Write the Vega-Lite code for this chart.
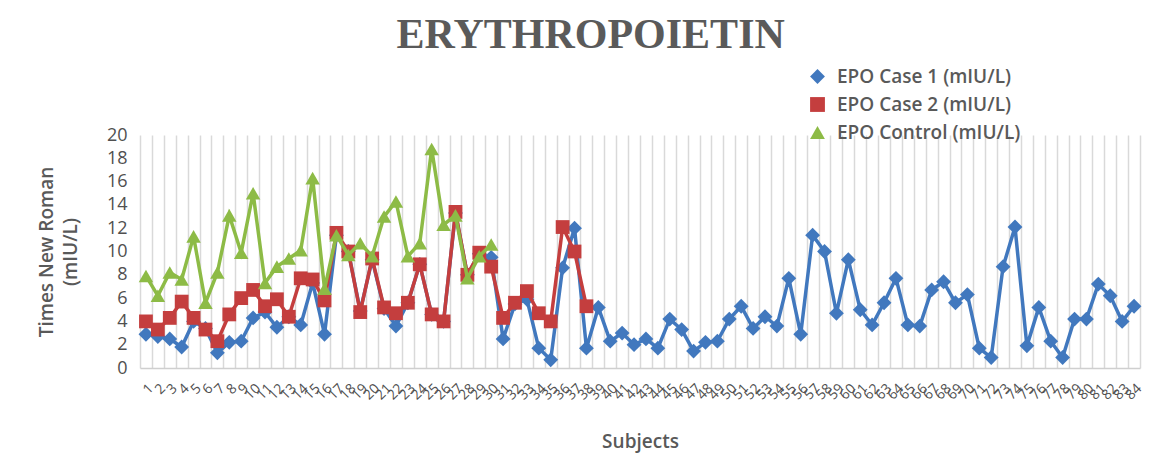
{
  "$schema": "https://vega.github.io/schema/vega-lite/v6.json",
  "width": 1000,
  "height": 233,
  "autosize": {"type": "none"},
  "padding": {"left": 140, "top": 135, "right": 16, "bottom": 103},
  "background": "white",
  "config": {
    "view": {"stroke": null},
    "font": "Open Sans",
    "legend": {"orient": "none", "legendX": 668, "legendY": -68, "padding": 0, "labelFontSize": 19, "labelFontWeight": 600, "labelColor": "#595959", "symbolSize": 220, "rowPadding": 8, "labelOffset": 10, "labelLimit": 400}
  },
  "title": {"text": "ERYTHROPOIETIN", "font": "Liberation Serif", "fontSize": 42, "fontWeight": "bold", "color": "#5a5a5a", "anchor": "middle", "frame": "bounds", "offset": 10},
  "data": {"values": [
    {"subject":1,"series":"EPO Case 1 (mIU/L)","value":2.9},{"subject":2,"series":"EPO Case 1 (mIU/L)","value":2.7},{"subject":3,"series":"EPO Case 1 (mIU/L)","value":2.5},{"subject":4,"series":"EPO Case 1 (mIU/L)","value":1.8},{"subject":5,"series":"EPO Case 1 (mIU/L)","value":4.0},{"subject":6,"series":"EPO Case 1 (mIU/L)","value":3.4},{"subject":7,"series":"EPO Case 1 (mIU/L)","value":1.3},{"subject":8,"series":"EPO Case 1 (mIU/L)","value":2.2},{"subject":9,"series":"EPO Case 1 (mIU/L)","value":2.3},{"subject":10,"series":"EPO Case 1 (mIU/L)","value":4.3},
    {"subject":11,"series":"EPO Case 1 (mIU/L)","value":4.8},{"subject":12,"series":"EPO Case 1 (mIU/L)","value":3.5},{"subject":13,"series":"EPO Case 1 (mIU/L)","value":4.4},{"subject":14,"series":"EPO Case 1 (mIU/L)","value":3.7},{"subject":15,"series":"EPO Case 1 (mIU/L)","value":7.3},{"subject":16,"series":"EPO Case 1 (mIU/L)","value":2.9},{"subject":17,"series":"EPO Case 1 (mIU/L)","value":11.4},{"subject":18,"series":"EPO Case 1 (mIU/L)","value":10.0},{"subject":19,"series":"EPO Case 1 (mIU/L)","value":4.9},{"subject":20,"series":"EPO Case 1 (mIU/L)","value":9.3},
    {"subject":21,"series":"EPO Case 1 (mIU/L)","value":5.1},{"subject":22,"series":"EPO Case 1 (mIU/L)","value":3.6},{"subject":23,"series":"EPO Case 1 (mIU/L)","value":5.6},{"subject":24,"series":"EPO Case 1 (mIU/L)","value":8.9},{"subject":25,"series":"EPO Case 1 (mIU/L)","value":4.6},{"subject":26,"series":"EPO Case 1 (mIU/L)","value":4.0},{"subject":27,"series":"EPO Case 1 (mIU/L)","value":13.3},{"subject":28,"series":"EPO Case 1 (mIU/L)","value":8.0},{"subject":29,"series":"EPO Case 1 (mIU/L)","value":9.8},{"subject":30,"series":"EPO Case 1 (mIU/L)","value":9.5},
    {"subject":31,"series":"EPO Case 1 (mIU/L)","value":2.5},{"subject":32,"series":"EPO Case 1 (mIU/L)","value":5.5},{"subject":33,"series":"EPO Case 1 (mIU/L)","value":5.9},{"subject":34,"series":"EPO Case 1 (mIU/L)","value":1.7},{"subject":35,"series":"EPO Case 1 (mIU/L)","value":0.7},{"subject":36,"series":"EPO Case 1 (mIU/L)","value":8.6},{"subject":37,"series":"EPO Case 1 (mIU/L)","value":12.0},{"subject":38,"series":"EPO Case 1 (mIU/L)","value":1.7},{"subject":39,"series":"EPO Case 1 (mIU/L)","value":5.2},{"subject":40,"series":"EPO Case 1 (mIU/L)","value":2.3},
    {"subject":41,"series":"EPO Case 1 (mIU/L)","value":3.0},{"subject":42,"series":"EPO Case 1 (mIU/L)","value":2.0},{"subject":43,"series":"EPO Case 1 (mIU/L)","value":2.5},{"subject":44,"series":"EPO Case 1 (mIU/L)","value":1.7},{"subject":45,"series":"EPO Case 1 (mIU/L)","value":4.2},{"subject":46,"series":"EPO Case 1 (mIU/L)","value":3.3},{"subject":47,"series":"EPO Case 1 (mIU/L)","value":1.45},{"subject":48,"series":"EPO Case 1 (mIU/L)","value":2.2},{"subject":49,"series":"EPO Case 1 (mIU/L)","value":2.3},{"subject":50,"series":"EPO Case 1 (mIU/L)","value":4.2},
    {"subject":51,"series":"EPO Case 1 (mIU/L)","value":5.3},{"subject":52,"series":"EPO Case 1 (mIU/L)","value":3.4},{"subject":53,"series":"EPO Case 1 (mIU/L)","value":4.4},{"subject":54,"series":"EPO Case 1 (mIU/L)","value":3.6},{"subject":55,"series":"EPO Case 1 (mIU/L)","value":7.7},{"subject":56,"series":"EPO Case 1 (mIU/L)","value":2.9},{"subject":57,"series":"EPO Case 1 (mIU/L)","value":11.4},{"subject":58,"series":"EPO Case 1 (mIU/L)","value":10.0},{"subject":59,"series":"EPO Case 1 (mIU/L)","value":4.7},{"subject":60,"series":"EPO Case 1 (mIU/L)","value":9.3},
    {"subject":61,"series":"EPO Case 1 (mIU/L)","value":5.0},{"subject":62,"series":"EPO Case 1 (mIU/L)","value":3.7},{"subject":63,"series":"EPO Case 1 (mIU/L)","value":5.6},{"subject":64,"series":"EPO Case 1 (mIU/L)","value":7.7},{"subject":65,"series":"EPO Case 1 (mIU/L)","value":3.7},{"subject":66,"series":"EPO Case 1 (mIU/L)","value":3.6},{"subject":67,"series":"EPO Case 1 (mIU/L)","value":6.7},{"subject":68,"series":"EPO Case 1 (mIU/L)","value":7.4},{"subject":69,"series":"EPO Case 1 (mIU/L)","value":5.6},{"subject":70,"series":"EPO Case 1 (mIU/L)","value":6.3},
    {"subject":71,"series":"EPO Case 1 (mIU/L)","value":1.7},{"subject":72,"series":"EPO Case 1 (mIU/L)","value":0.9},{"subject":73,"series":"EPO Case 1 (mIU/L)","value":8.7},{"subject":74,"series":"EPO Case 1 (mIU/L)","value":12.1},{"subject":75,"series":"EPO Case 1 (mIU/L)","value":1.9},{"subject":76,"series":"EPO Case 1 (mIU/L)","value":5.2},{"subject":77,"series":"EPO Case 1 (mIU/L)","value":2.3},{"subject":78,"series":"EPO Case 1 (mIU/L)","value":0.9},{"subject":79,"series":"EPO Case 1 (mIU/L)","value":4.2},{"subject":80,"series":"EPO Case 1 (mIU/L)","value":4.2},
    {"subject":81,"series":"EPO Case 1 (mIU/L)","value":7.2},{"subject":82,"series":"EPO Case 1 (mIU/L)","value":6.2},{"subject":83,"series":"EPO Case 1 (mIU/L)","value":4.0},{"subject":84,"series":"EPO Case 1 (mIU/L)","value":5.3},
    {"subject":1,"series":"EPO Case 2 (mIU/L)","value":4.0},{"subject":2,"series":"EPO Case 2 (mIU/L)","value":3.3},{"subject":3,"series":"EPO Case 2 (mIU/L)","value":4.3},{"subject":4,"series":"EPO Case 2 (mIU/L)","value":5.7},{"subject":5,"series":"EPO Case 2 (mIU/L)","value":4.3},{"subject":6,"series":"EPO Case 2 (mIU/L)","value":3.3},{"subject":7,"series":"EPO Case 2 (mIU/L)","value":2.3},{"subject":8,"series":"EPO Case 2 (mIU/L)","value":4.6},{"subject":9,"series":"EPO Case 2 (mIU/L)","value":6.0},{"subject":10,"series":"EPO Case 2 (mIU/L)","value":6.7},
    {"subject":11,"series":"EPO Case 2 (mIU/L)","value":5.3},{"subject":12,"series":"EPO Case 2 (mIU/L)","value":5.9},{"subject":13,"series":"EPO Case 2 (mIU/L)","value":4.4},{"subject":14,"series":"EPO Case 2 (mIU/L)","value":7.7},{"subject":15,"series":"EPO Case 2 (mIU/L)","value":7.6},{"subject":16,"series":"EPO Case 2 (mIU/L)","value":5.8},{"subject":17,"series":"EPO Case 2 (mIU/L)","value":11.6},{"subject":18,"series":"EPO Case 2 (mIU/L)","value":10.0},{"subject":19,"series":"EPO Case 2 (mIU/L)","value":4.8},{"subject":20,"series":"EPO Case 2 (mIU/L)","value":9.4},
    {"subject":21,"series":"EPO Case 2 (mIU/L)","value":5.2},{"subject":22,"series":"EPO Case 2 (mIU/L)","value":4.7},{"subject":23,"series":"EPO Case 2 (mIU/L)","value":5.6},{"subject":24,"series":"EPO Case 2 (mIU/L)","value":8.9},{"subject":25,"series":"EPO Case 2 (mIU/L)","value":4.6},{"subject":26,"series":"EPO Case 2 (mIU/L)","value":4.0},{"subject":27,"series":"EPO Case 2 (mIU/L)","value":13.4},{"subject":28,"series":"EPO Case 2 (mIU/L)","value":8.0},{"subject":29,"series":"EPO Case 2 (mIU/L)","value":9.9},{"subject":30,"series":"EPO Case 2 (mIU/L)","value":8.7},
    {"subject":31,"series":"EPO Case 2 (mIU/L)","value":4.3},{"subject":32,"series":"EPO Case 2 (mIU/L)","value":5.6},{"subject":33,"series":"EPO Case 2 (mIU/L)","value":6.6},{"subject":34,"series":"EPO Case 2 (mIU/L)","value":4.7},{"subject":35,"series":"EPO Case 2 (mIU/L)","value":4.0},{"subject":36,"series":"EPO Case 2 (mIU/L)","value":12.1},{"subject":37,"series":"EPO Case 2 (mIU/L)","value":10.0},{"subject":38,"series":"EPO Case 2 (mIU/L)","value":5.3},
    {"subject":1,"series":"EPO Control (mIU/L)","value":7.9},{"subject":2,"series":"EPO Control (mIU/L)","value":6.2},{"subject":3,"series":"EPO Control (mIU/L)","value":8.2},{"subject":4,"series":"EPO Control (mIU/L)","value":7.6},{"subject":5,"series":"EPO Control (mIU/L)","value":11.3},{"subject":6,"series":"EPO Control (mIU/L)","value":5.6},{"subject":7,"series":"EPO Control (mIU/L)","value":8.2},{"subject":8,"series":"EPO Control (mIU/L)","value":13.1},{"subject":9,"series":"EPO Control (mIU/L)","value":9.9},{"subject":10,"series":"EPO Control (mIU/L)","value":15.0},
    {"subject":11,"series":"EPO Control (mIU/L)","value":7.3},{"subject":12,"series":"EPO Control (mIU/L)","value":8.7},{"subject":13,"series":"EPO Control (mIU/L)","value":9.4},{"subject":14,"series":"EPO Control (mIU/L)","value":10.1},{"subject":15,"series":"EPO Control (mIU/L)","value":16.3},{"subject":16,"series":"EPO Control (mIU/L)","value":6.8},{"subject":17,"series":"EPO Control (mIU/L)","value":11.4},{"subject":18,"series":"EPO Control (mIU/L)","value":9.7},{"subject":19,"series":"EPO Control (mIU/L)","value":10.7},{"subject":20,"series":"EPO Control (mIU/L)","value":9.6},
    {"subject":21,"series":"EPO Control (mIU/L)","value":13.0},{"subject":22,"series":"EPO Control (mIU/L)","value":14.3},{"subject":23,"series":"EPO Control (mIU/L)","value":9.6},{"subject":24,"series":"EPO Control (mIU/L)","value":10.7},{"subject":25,"series":"EPO Control (mIU/L)","value":18.8},{"subject":26,"series":"EPO Control (mIU/L)","value":12.3},{"subject":27,"series":"EPO Control (mIU/L)","value":13.1},{"subject":28,"series":"EPO Control (mIU/L)","value":7.7},{"subject":29,"series":"EPO Control (mIU/L)","value":9.6},{"subject":30,"series":"EPO Control (mIU/L)","value":10.6}
  ]},
  "encoding": {
    "x": {
      "field": "subject", "type": "ordinal", "bandPosition": 0.5,
      "scale": {"type": "band", "paddingInner": 0, "paddingOuter": 0},
      "axis": {"title": "Subjects", "labelAngle": -45, "tickBand": "extent", "grid": true, "gridColor": "#d9d9d9", "gridWidth": 1.5, "ticks": false, "domainColor": "#cfcfcf", "domainWidth": 1.5, "labelFontSize": 14, "labelColor": "#505050", "labelPadding": 13, "labelOverlap": false, "titleFontSize": 19, "titleFontWeight": 600, "titleColor": "#595959", "titlePadding": 30}
    },
    "y": {
      "field": "value", "type": "quantitative",
      "scale": {"domain": [0, 20]},
      "axis": {"values": [0,2,4,6,8,10,12,14,16,18,20], "grid": false, "domain": false, "ticks": false, "labelFontSize": 18, "labelColor": "#505050", "labelPadding": 13, "title": ["Times New Roman", "(mIU/L)"], "titleFontSize": 19, "titleFontWeight": 600, "titleColor": "#595959", "titleLineHeight": 24, "titlePadding": 26}
    }
  },
  "layer": [
    {"transform": [{"filter": "datum.series === 'EPO Case 1 (mIU/L)'"}], "mark": {"type": "line", "color": "#4178BE", "strokeWidth": 3.5}},
    {"transform": [{"filter": "datum.series === 'EPO Case 1 (mIU/L)'"}], "mark": {"type": "point", "filled": true, "opacity": 1, "size": 220},
     "encoding": {
       "color": {"field": "series", "type": "nominal", "scale": {"domain": ["EPO Case 1 (mIU/L)", "EPO Case 2 (mIU/L)", "EPO Control (mIU/L)"], "range": ["#4178BE", "#C43E3E", "#8DBB46"]}, "legend": {"title": null}},
       "shape": {"field": "series", "type": "nominal", "scale": {"domain": ["EPO Case 1 (mIU/L)", "EPO Case 2 (mIU/L)", "EPO Control (mIU/L)"], "range": ["diamond", "square", "triangle-up"]}, "legend": {"title": null}}
     }},
    {"transform": [{"filter": "datum.series === 'EPO Case 2 (mIU/L)'"}], "mark": {"type": "line", "color": "#C43E3E", "strokeWidth": 3.5}},
    {"transform": [{"filter": "datum.series === 'EPO Case 2 (mIU/L)'"}], "mark": {"type": "point", "filled": true, "opacity": 1, "size": 190},
     "encoding": {
       "color": {"field": "series", "type": "nominal", "legend": {"title": null}},
       "shape": {"field": "series", "type": "nominal", "legend": {"title": null}}
     }},
    {"transform": [{"filter": "datum.series === 'EPO Control (mIU/L)'"}], "mark": {"type": "line", "color": "#8DBB46", "strokeWidth": 3.5}},
    {"transform": [{"filter": "datum.series === 'EPO Control (mIU/L)'"}], "mark": {"type": "point", "filled": true, "opacity": 1, "size": 210},
     "encoding": {
       "color": {"field": "series", "type": "nominal", "legend": {"title": null}},
       "shape": {"field": "series", "type": "nominal", "legend": {"title": null}}
     }}
  ]
}
